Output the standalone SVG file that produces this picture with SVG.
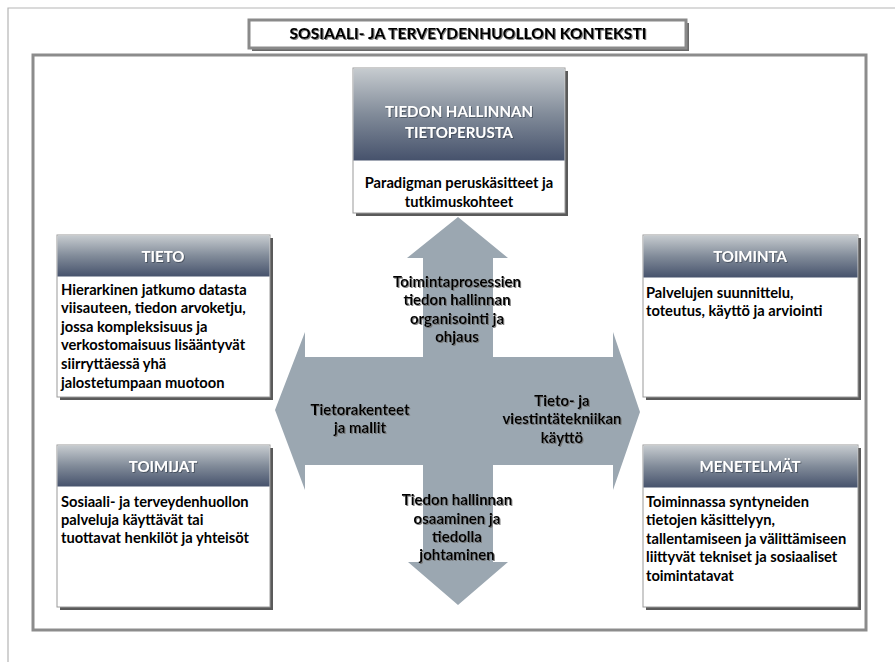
<svg xmlns="http://www.w3.org/2000/svg" width="895" height="662" viewBox="0 0 895 662">
  <defs>
    <linearGradient id="hdr" x1="0" y1="0" x2="0" y2="1">
      <stop offset="0" stop-color="#c6cbcf"/>
      <stop offset="0.5" stop-color="#818b99"/>
      <stop offset="1" stop-color="#46526c"/>
    </linearGradient>
    <filter id="tshadow" x="-10%" y="-10%" width="120%" height="130%">
      <feDropShadow dx="1" dy="1" stdDeviation="0.7" flood-color="#6e6e6e" flood-opacity="0.85"/>
    </filter>
    <filter id="wshadow" x="-10%" y="-10%" width="120%" height="130%">
      <feDropShadow dx="0.8" dy="0.8" stdDeviation="0.5" flood-color="#2a3040" flood-opacity="0.7"/>
    </filter>
  </defs>
  <style>
    .page { fill: none; stroke: #b5b5b5; stroke-width: 1.2; }
    .frame { fill: none; stroke: #8c8c8c; stroke-width: 3; }
    .shadow { fill: #5a5a5a; }
    .body { fill: #ffffff; stroke: #9a9a9a; stroke-width: 1; }
    .head { fill: url(#hdr); }
    .ht { font-family: Lato, "Open Sans", sans-serif; font-weight: 700; font-size: 15px; fill: #ffffff; text-anchor: middle; filter: url(#wshadow); }
    .bt { font-family: Lato, "Open Sans", sans-serif; font-weight: 700; font-size: 14.7px; fill: #000000; }
    .ct { text-anchor: middle; }
    .at { font-family: Lato, "Open Sans", sans-serif; font-weight: 700; font-size: 15px; fill: #000000; text-anchor: middle; filter: url(#tshadow); }
    .title { font-family: Lato, "Open Sans", sans-serif; font-weight: 900; font-size: 15.5px; fill: #000000; text-anchor: middle; filter: url(#tshadow); }
    .cross { fill: #9ba7b1; }
  </style>

  <!-- page edge lines -->
  <path class="page" d="M8 662 V8 H895"/>

  <!-- context frame -->
  <rect class="frame" x="33" y="55" width="833" height="575"/>

  <!-- title -->
  <g id="title">
    <rect x="252" y="23" width="437" height="28" fill="#6a6a6a"/>
    <rect x="249" y="20" width="437" height="28" fill="#ffffff" stroke="#8a8a8a" stroke-width="3"/>
    <text class="title" x="468" y="39" textLength="357" lengthAdjust="spacing">SOSIAALI- JA TERVEYDENHUOLLON KONTEKSTI</text>
  </g>

  <!-- connectors: four-way arrow -->
  <g id="connectors">
    <path class="cross" d="M458 217 L508 258 L493 258 L493 357 L613 357 L613 332 L640 412 L613 490 L613 465 L493 465 L493 562 L508 562 L458 605 L408 562 L423 562 L423 465 L305 465 L305 490 L275 410 L305 332 L305 357 L423 357 L423 258 L407 258 Z"/>
    <g id="label-up">
      <text class="at" x="457" y="287">Toimintaprosessien</text>
      <text class="at" x="457" y="305">tiedon hallinnan</text>
      <text class="at" x="457" y="324">organisointi ja</text>
      <text class="at" x="457" y="342">ohjaus</text>
    </g>
    <g id="label-left">
      <text class="at" x="360" y="415">Tietorakenteet</text>
      <text class="at" x="360" y="433">ja mallit</text>
    </g>
    <g id="label-right">
      <text class="at" x="562" y="406">Tieto- ja</text>
      <text class="at" x="562" y="424">viestintätekniikan</text>
      <text class="at" x="562" y="443">käyttö</text>
    </g>
    <g id="label-down">
      <text class="at" x="457" y="505">Tiedon hallinnan</text>
      <text class="at" x="457" y="524">osaaminen ja</text>
      <text class="at" x="457" y="542">tiedolla</text>
      <text class="at" x="457" y="560">johtaminen</text>
    </g>
  </g>

  <!-- node: knowledge base -->
  <g id="node-tietoperusta">
    <rect class="shadow" x="356" y="71" width="212" height="145"/>
    <rect class="body" x="353" y="68" width="212" height="145"/>
    <rect class="head" x="353.5" y="68.5" width="211" height="92"/>
    <text class="ht" x="459" y="117" font-size="16">TIEDON HALLINNAN</text>
    <text class="ht" x="459" y="138" font-size="16">TIETOPERUSTA</text>
    <text class="bt ct" x="459" y="188">Paradigman peruskäsitteet ja</text>
    <text class="bt ct" x="459" y="207">tutkimuskohteet</text>
  </g>

  <!-- node: TIETO -->
  <g id="node-tieto">
    <rect class="shadow" x="60" y="238" width="213" height="162"/>
    <rect class="body" x="57" y="235" width="213" height="162"/>
    <rect class="head" x="57.5" y="235.5" width="212" height="41"/>
    <text class="ht" x="163" y="262">TIETO</text>
    <text class="bt" x="61" y="295">Hierarkinen jatkumo datasta</text>
    <text class="bt" x="61" y="313">viisauteen, tiedon arvoketju,</text>
    <text class="bt" x="61" y="332">jossa kompleksisuus ja</text>
    <text class="bt" x="61" y="350">verkostomaisuus lisääntyvät</text>
    <text class="bt" x="61" y="369">siirryttäessä yhä</text>
    <text class="bt" x="61" y="388">jalostetumpaan muotoon</text>
  </g>

  <!-- node: TOIMINTA -->
  <g id="node-toiminta">
    <rect class="shadow" x="646" y="238" width="215" height="162"/>
    <rect class="body" x="643" y="235" width="215" height="162"/>
    <rect class="head" x="643.5" y="235.5" width="214" height="42"/>
    <text class="ht" x="750" y="262">TOIMINTA</text>
    <text class="bt" x="646" y="298">Palvelujen suunnittelu,</text>
    <text class="bt" x="646" y="316">toteutus, käyttö ja arviointi</text>
  </g>

  <!-- node: TOIMIJAT -->
  <g id="node-toimijat">
    <rect class="shadow" x="60" y="448" width="213" height="162"/>
    <rect class="body" x="57" y="445" width="213" height="162"/>
    <rect class="head" x="57.5" y="445.5" width="212" height="41"/>
    <text class="ht" x="163" y="472">TOIMIJAT</text>
    <text class="bt" x="61" y="507">Sosiaali- ja terveydenhuollon</text>
    <text class="bt" x="61" y="525">palveluja käyttävät tai</text>
    <text class="bt" x="61" y="543">tuottavat henkilöt ja yhteisöt</text>
  </g>

  <!-- node: MENETELMÄT -->
  <g id="node-menetelmat">
    <rect class="shadow" x="646" y="448" width="215" height="162"/>
    <rect class="body" x="643" y="445" width="215" height="162"/>
    <rect class="head" x="643.5" y="445.5" width="214" height="42"/>
    <text class="ht" x="750" y="472">MENETELMÄT</text>
    <text class="bt" x="646" y="507">Toiminnassa syntyneiden</text>
    <text class="bt" x="646" y="525">tietojen käsittelyyn,</text>
    <text class="bt" x="646" y="544">tallentamiseen ja välittämiseen</text>
    <text class="bt" x="646" y="562">liittyvät tekniset ja sosiaaliset</text>
    <text class="bt" x="646" y="581">toimintatavat</text>
  </g>
</svg>
